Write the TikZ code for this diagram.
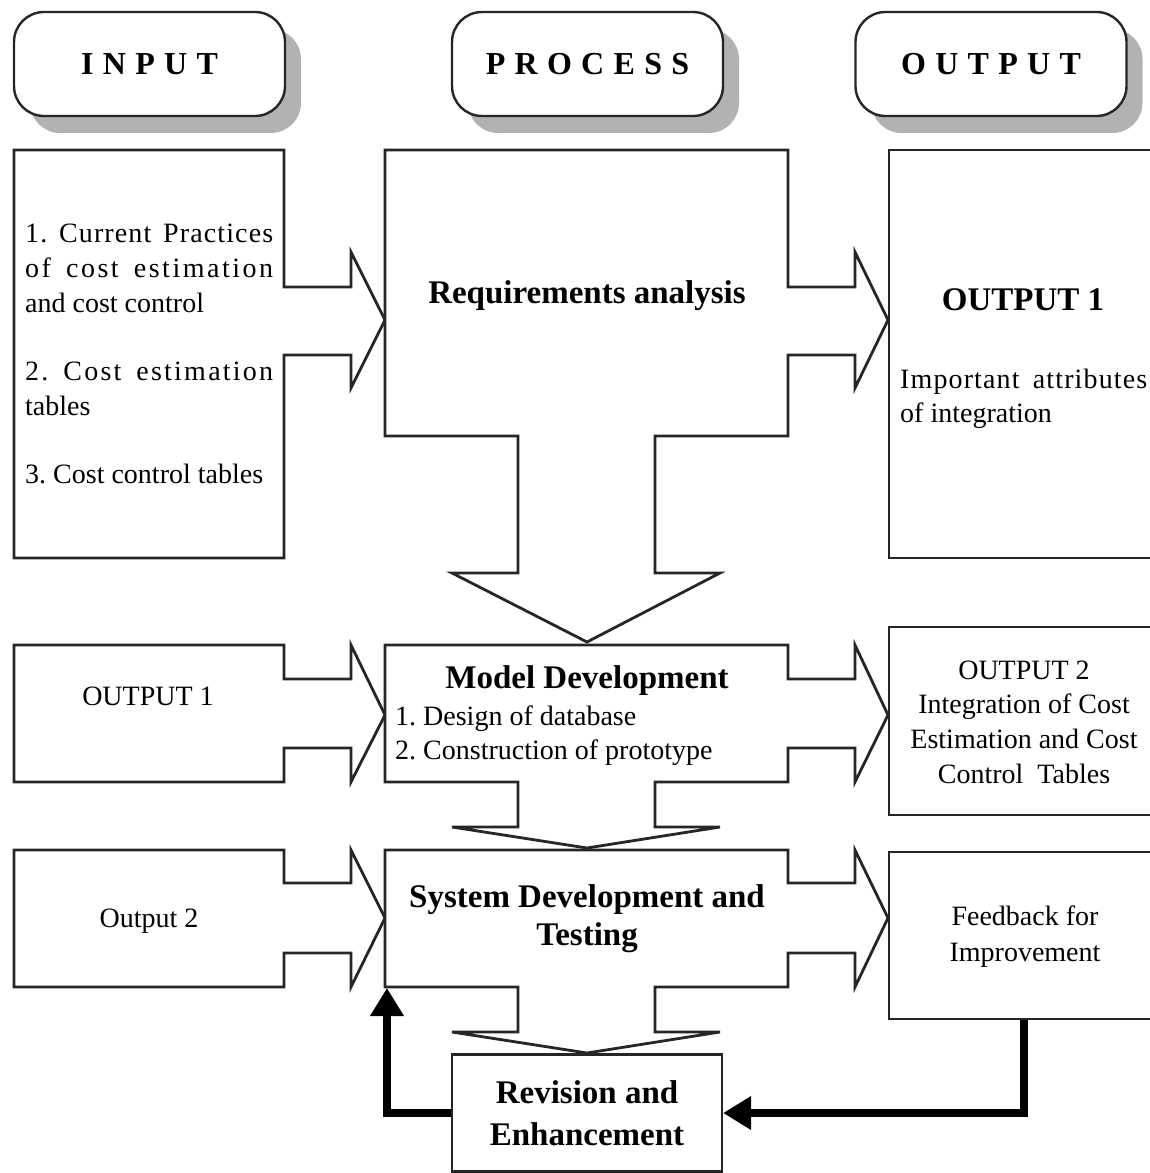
\documentclass[tikz,border=0pt]{standalone}
\usepackage{fontspec}
\setmainfont{Liberation Serif}
\usetikzlibrary{arrows.meta,shadows}
\frenchspacing
\newcommand\hg{\hspace{9.3pt}}
\newcommand\jline[2]{{\addfontfeature{LetterSpace=#1}\makebox[248pt][s]{#2}}}
\begin{document}
\begin{tikzpicture}[x=1pt,y=-1pt,
  blk/.style={draw=black!85,line width=2.8pt,fill=white,line join=miter},
  obox/.style={draw=black!85,line width=2.8pt,fill=white,inner sep=0pt,minimum width=270pt},
  hdr/.style={draw=black!85,line width=2.4pt,fill=white,rounded corners=30pt,minimum width=271pt,minimum height=104pt,inner sep=0pt,
     drop shadow={shadow xshift=16pt,shadow yshift=-17pt,fill=black!30,opacity=1},
     font=\fontsize{32}{38}\selectfont\bfseries},
  reg/.style={inner sep=0pt,font=\fontsize{28}{34}\selectfont\frenchspacing},
  bld/.style={inner sep=0pt,font=\fontsize{33}{40}\selectfont\bfseries},
  fb/.style={line width=8pt,-{Triangle[length=28pt,width=32pt]}}
]
\useasboundingbox (0,0) rectangle (1150,1173);
\clip (0,0) rectangle (1150,1173);

% headers
\node[hdr] (hin) at (149.5,64) {I\hg N\hg P\hg U\hg T};
\node[hdr] (hpr) at (587.5,64) {P\hg R\hg O\hg C\hg E\hg S\hg S};
\node[hdr] (hout) at (991,64) {O\hg U\hg T\hg P\hg U\hg T};

% output boxes
\node[obox,minimum height=408pt] (o1) at (1024,354) {};
\node[obox,minimum height=188pt] (o2) at (1024,721) {};
\node[obox,minimum height=167pt] (fbk) at (1024,935.5) {};

% input boxes with arrows
\draw[blk] (14,150) -- (284,150) -- (284,287) -- (351,287) -- (351,252) -- (385,320) -- (351,388) -- (351,355) -- (284,355) -- (284,558) -- (14,558) -- cycle;
\draw[blk] (14,645) -- (284,645) -- (284,679) -- (351,679) -- (351,645) -- (385,715) -- (351,782) -- (351,748) -- (284,748) -- (284,782) -- (14,782) -- cycle;
\draw[blk] (14,850) -- (284,850) -- (284,883) -- (351,883) -- (351,850) -- (385,918) -- (351,987) -- (351,953) -- (284,953) -- (284,987) -- (14,987) -- cycle;

% process boxes with arrows
\draw[blk] (385,150) -- (788,150) -- (788,287) -- (855,287) -- (855,252) -- (888,320) -- (855,388) -- (855,355) -- (788,355) -- (788,436) -- (655,436) -- (655,573) -- (720,573) -- (587,642) -- (452,573) -- (518,573) -- (518,436) -- (385,436) -- cycle;
\draw[blk] (385,645) -- (788,645) -- (788,679) -- (855,679) -- (855,645) -- (888,715) -- (855,782) -- (855,748) -- (788,748) -- (788,782) -- (655,782) -- (655,827) -- (720,827) -- (587,848) -- (452,827) -- (518,827) -- (518,782) -- (385,782) -- cycle;
\draw[blk] (385,850) -- (788,850) -- (788,883) -- (855,883) -- (855,850) -- (888,918) -- (855,987) -- (855,953) -- (788,953) -- (788,987) -- (655,987) -- (655,1032) -- (720,1032) -- (587,1053) -- (452,1032) -- (518,1032) -- (518,987) -- (385,987) -- cycle;

% revision box
\node[draw=black!85,line width=2.2pt,fill=white,minimum width=270pt,minimum height=117pt,inner sep=0pt] (rev) at (587,1113) {};
\coordinate (p3sw) at (387,988);

% texts
\node[reg,anchor=base west] (i1a) at (25,242) {\jline{4}{1. Current Practices}};
\node[reg,anchor=base west] (i1b) at (25,277) {\jline{9}{of cost estimation}};
\node[reg,anchor=base west] (i1c) at (25,312) {and cost control};
\node[reg,anchor=base west] (i1d) at (25,380) {\jline{8}{2. Cost estimation}};
\node[reg,anchor=base west] (i1e) at (25,415) {tables};
\node[reg,anchor=base west] (i1f) at (25,483) {3. Cost control tables};

\node[bld,anchor=base] (p1t) at (587,303) {Requirements analysis};

\node[bld,anchor=base] (o1t) at (1023,310) {OUTPUT 1};
\node[reg,anchor=base west] (o1a) at (900,388) {{\addfontfeature{LetterSpace=4}\makebox[247pt][s]{Important attributes}}};
\node[reg,anchor=base west] (o1b) at (900,422) {of integration};

\node[reg,anchor=base] (i2t) at (148,705) {OUTPUT 1};
\node[bld,anchor=base] (p2t) at (587,688) {Model Development};
\node[reg,anchor=base west] (p2a) at (395,725) {1. Design of database};
\node[reg,anchor=base west] (p2b) at (395,759) {2. Construction of prototype};
\node[reg,anchor=base] (o2a) at (1024,679) {OUTPUT 2};
\node[reg,anchor=base] (o2b) at (1024,713) {Integration of Cost};
\node[reg,anchor=base] (o2c) at (1024,748) {Estimation and Cost};
\node[reg,anchor=base] (o2d) at (1024,783) {Control\ \ Tables};

\node[reg,anchor=base] (i3t) at (149,927) {Output 2};
\node[bld,anchor=base] (p3t) at (587,907) {System Development and};
\node[bld,anchor=base] (p3u) at (587,945) {Testing};
\node[reg,anchor=base] (fba) at (1025,925) {Feedback for};
\node[reg,anchor=base] (fbb) at (1025,961) {Improvement};

\node[bld,anchor=base] (rva) at (587,1103) {Revision and};
\node[bld,anchor=base] (rvb) at (587,1145) {Enhancement};

% feedback connectors
\draw[fb] (rev.west) -| (p3sw);
\draw[fb] (fbk.south) |- (rev.east);
\end{tikzpicture}
\end{document}
